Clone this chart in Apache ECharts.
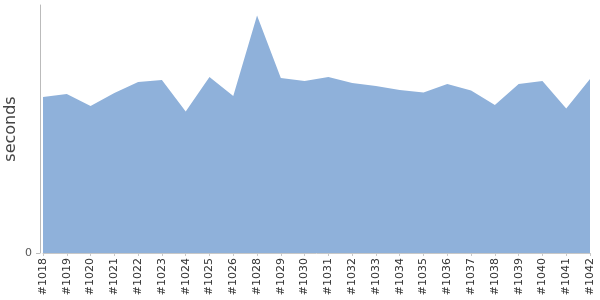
<!DOCTYPE html>
<html><head><meta charset="utf-8">
<script src="https://cdn.jsdelivr.net/npm/echarts@6/dist/echarts.min.js"></script>
<style>html,body{margin:0;padding:0;background:#fff}#c{width:600px;height:300px}</style>
</head><body><div id="c"></div>
<script>
const builds = ['#1018','#1019','#1020','#1021','#1022','#1023','#1024','#1025','#1026','#1028','#1029','#1030','#1031','#1032','#1033','#1034','#1035','#1036','#1037','#1038','#1039','#1040','#1041','#1042'];
const durations = [156,159,147,160,171,173,141.5,176,157,237.5,175,172,176,170,167,163,160.5,169,162.5,148,169,172,144.5,174];
const yMin = 0, yMax = 248;

const chart = echarts.init(document.getElementById('c'), null, {renderer:'canvas'});
chart.setOption({
  animation:false,
  grid:{left:43,right:10,top:5,bottom:47,containLabel:false,outerBoundsMode:'none'},
  xAxis:{type:'category',data:builds,boundaryGap:false,
    axisLine:{show:true,lineStyle:{color:'#c8c8c8'}},
    axisTick:{show:true,length:3,lineStyle:{color:'#c8c8c8'}},
    axisLabel:{rotate:90,interval:0,fontSize:11,fontFamily:'DejaVu Sans',color:'#333',margin:5}},
  yAxis:{type:'value',min:yMin,max:yMax,interval:yMax,offset:3,
    name:'seconds',nameLocation:'middle',nameGap:21,nameRotate:90,nameMoveOverlap:false,
    nameTextStyle:{fontSize:16,fontFamily:'DejaVu Sans',color:'#444'},
    splitLine:{show:false},
    axisLine:{show:true,lineStyle:{color:'#bbb'}},
    axisTick:{show:true,length:4,lineStyle:{color:'#bbb'}},
    axisLabel:{showMaxLabel:false,fontSize:11,fontFamily:'DejaVu Sans',color:'#555',margin:8}},
  series:[{type:'line',data:durations,symbol:'none',
    lineStyle:{width:0},areaStyle:{color:'#8FB1DA',opacity:1}}]
});
</script></body></html>
